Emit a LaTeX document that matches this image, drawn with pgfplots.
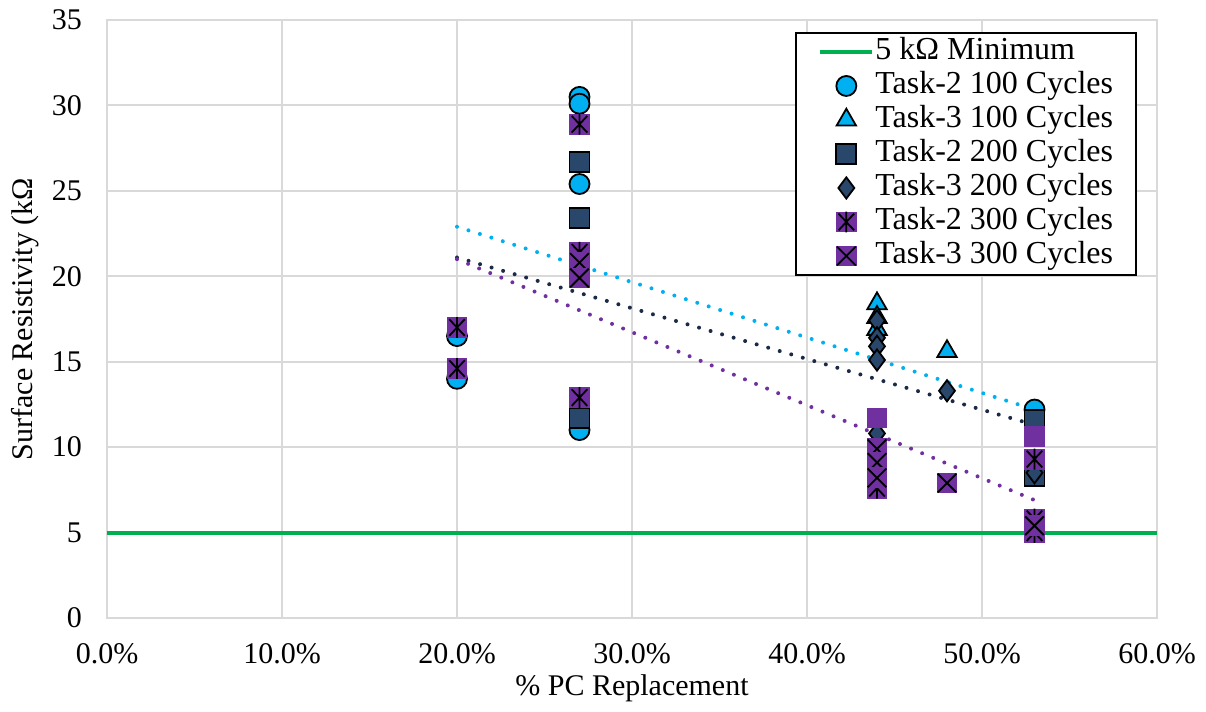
\documentclass[border=0pt]{standalone}
\usepackage{fontspec}
\setmainfont{Liberation Serif}
\usepackage{pgfplots}
\pgfplotsset{compat=1.18}
\definecolor{cblue}{HTML}{00B0F0}
\definecolor{cnavy}{HTML}{29466B}
\definecolor{cnavyline}{HTML}{1B2A47}
\definecolor{cpurple}{HTML}{7030A0}
\definecolor{cgreen}{HTML}{00B050}
\definecolor{cgrid}{HTML}{D9D9D9}
\pgfdeclareplotmark{sqx}{%
  \pgfpathrectangle{\pgfpoint{-\pgfplotmarksize}{-\pgfplotmarksize}}{\pgfpoint{2\pgfplotmarksize}{2\pgfplotmarksize}}%
  \pgfusepath{fill}%
  \pgfpathmoveto{\pgfpoint{-0.9\pgfplotmarksize}{-0.9\pgfplotmarksize}}\pgfpathlineto{\pgfpoint{0.9\pgfplotmarksize}{0.9\pgfplotmarksize}}%
  \pgfpathmoveto{\pgfpoint{-0.9\pgfplotmarksize}{0.9\pgfplotmarksize}}\pgfpathlineto{\pgfpoint{0.9\pgfplotmarksize}{-0.9\pgfplotmarksize}}%
  \pgfusepath{stroke}}
\pgfdeclareplotmark{sqstar}{%
  \pgfpathrectangle{\pgfpoint{-\pgfplotmarksize}{-\pgfplotmarksize}}{\pgfpoint{2\pgfplotmarksize}{2\pgfplotmarksize}}%
  \pgfusepath{fill}%
  \pgfpathmoveto{\pgfpoint{-0.75\pgfplotmarksize}{-0.8\pgfplotmarksize}}\pgfpathlineto{\pgfpoint{0.75\pgfplotmarksize}{0.8\pgfplotmarksize}}%
  \pgfpathmoveto{\pgfpoint{-0.75\pgfplotmarksize}{0.8\pgfplotmarksize}}\pgfpathlineto{\pgfpoint{0.75\pgfplotmarksize}{-0.8\pgfplotmarksize}}%
  \pgfpathmoveto{\pgfpoint{0pt}{-\pgfplotmarksize}}\pgfpathlineto{\pgfpoint{0pt}{\pgfplotmarksize}}%
  \pgfusepath{stroke}}
\pgfdeclareplotmark{sqplain}{%
  \pgfpathrectangle{\pgfpoint{-\pgfplotmarksize}{-\pgfplotmarksize}}{\pgfpoint{2\pgfplotmarksize}{2\pgfplotmarksize}}%
  \pgfusepath{fill}}
\begin{document}
\begin{tikzpicture}
\path[use as bounding box] (-53.5pt,-47pt) rectangle (549.5pt,309pt);
\begin{axis}[
  scale only axis,
  width=525pt, height=299pt,
  xmin=0, xmax=60, ymin=0, ymax=35,
  xtick={0,10,20,30,40,50,60},
  xticklabels={0.0\%,10.0\%,20.0\%,30.0\%,40.0\%,50.0\%,60.0\%},
  ytick={0,5,10,15,20,25,30,35},
  /pgf/number format/assume math mode=true,
  major tick length=0pt,
  grid=major,
  grid style={draw=cgrid, line width=1pt},
  axis line style={draw=cgrid, line width=1pt},
  tick label style={font=\fontsize{15}{18}\selectfont},
  yticklabel style={xshift=-9pt},
  xticklabel style={yshift=-9pt},
  label style={font=\fontsize{15}{18}\selectfont},
  xlabel={\% PC Replacement},
  ylabel={Surface Resistivity (kΩ},
  xlabel style={at={(axis description cs:0.5,-0.117)}, anchor=center},
  ylabel style={at={(axis description cs:-0.078,0.5)}, anchor=center},
  legend cell align=left,
  legend style={at={(axis description cs:0.981,0.980)}, anchor=north east,
    draw=black, line width=1pt, fill=white,
    font=\fontsize{16}{17}\selectfont,
    nodes={inner sep=0.5pt, text height=12pt, text depth=4pt},
    inner xsep=11pt, inner ysep=1pt},
  legend image code/.code={\draw[mark repeat=2,mark phase=2,#1] plot coordinates {(0pt,0pt) (13pt,0pt) (26pt,0pt)};},
  every axis plot/.append style={line width=0.9pt},
]
\addplot[cgreen, line width=2pt, mark=none] coordinates {(0,5) (60,5)};
\addlegendentry{5 kΩ Minimum}
\addplot[only marks, mark=*, mark size=5pt, mark options={fill=cblue, draw=black}] coordinates {
(20,16.5) (20,14.0) (27,30.5) (27,30.1) (27,25.4) (27,11.0) (53,12.2)};
\addlegendentry{Task-2 100 Cycles}
\addplot[only marks, mark=triangle*, mark size=5.6pt, mark options={fill=cblue, draw=black}] coordinates {
(44,18.4) (44,17.6) (44,16.9) (48,15.6)};
\addlegendentry{Task-3 100 Cycles}
\addplot[only marks, mark=square*, mark size=5pt, mark options={fill=cnavy, draw=black}] coordinates {
(27,26.7) (27,23.4) (27,11.7) (53,11.6) (53,8.3)};
\addlegendentry{Task-2 200 Cycles}
\addplot[only marks, mark=diamond*, mark size=5.3pt, mark options={fill=cnavy, draw=black}] coordinates {
(44,17.4) (44,16.4) (44,15.9) (44,15.1) (44,10.8) (48,13.3) (53,8.5)};
\addlegendentry{Task-3 200 Cycles}
\addplot[only marks, mark=sqstar, mark size=5.2pt, mark options={fill=cpurple, draw=black, line width=0.9pt}] coordinates {
(20,17.0) (20,14.6) (27,28.9) (27,21.4) (27,20.2) (27,12.9) (44,8.6) (44,7.6) (53,9.3) (53,5.8) (53,5.0)};
\addlegendentry{Task-2 300 Cycles}
\addplot[only marks, mark=sqx, mark size=5.2pt, mark options={fill=cpurple, draw=black, line width=0.9pt}] coordinates {
(27,20.8) (27,19.9) (44,9.9) (44,9.1) (44,8.2) (48,7.9) (53,5.4)};
\addlegendentry{Task-3 300 Cycles}
\addplot[only marks, forget plot, mark=sqplain, mark size=5.2pt, mark options={fill=cpurple, draw=none}] coordinates {
(44,11.7) (53,10.6)};
\addplot[forget plot, cblue, line width=2pt, line cap=round, dash pattern=on 0pt off 6pt] coordinates {(20,22.9) (53,12.2)};
\addplot[forget plot, cnavyline, line width=2pt, line cap=round, dash pattern=on 0pt off 6pt] coordinates {(20,21.1) (53,11.3)};
\addplot[forget plot, cpurple, line width=2pt, line cap=round, dash pattern=on 0pt off 6pt] coordinates {(20,21.0) (53,6.9)};
\end{axis}
\end{tikzpicture}
\end{document}
